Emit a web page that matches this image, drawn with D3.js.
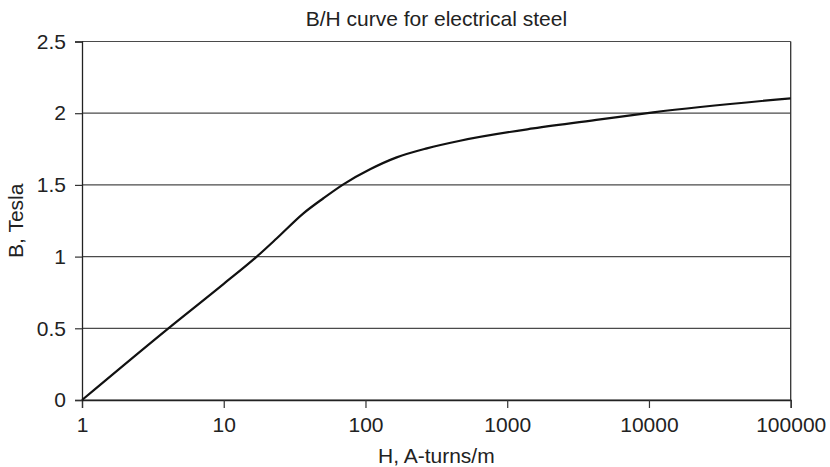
<!DOCTYPE html>
<html><head><meta charset="utf-8">
<script src="https://cdn.jsdelivr.net/npm/d3@7"></script>
<style>body{margin:0;background:#fff}text{font-family:"Liberation Sans",Arial,sans-serif;fill:#222}</style>
</head><body><svg id="c" width="830" height="467"></svg>
<script>
const H = [1, 4.07, 10, 17.1, 23.7, 36.5, 50.5, 69.8, 107.7, 166, 271, 465, 1524, 4530, 10700, 100000];
const B = [0, 0.5, 0.81, 1.0, 1.128, 1.302, 1.407, 1.504, 1.609, 1.692, 1.755, 1.808, 1.894, 1.957, 2.006, 2.104];
const xTicks = [1, 10, 100, 1000, 10000, 100000];
const yTicks = [0, 0.5, 1, 1.5, 2, 2.5];
const title = "B/H curve for electrical steel";
const xTitle = "H, A-turns/m";
const yTitle = "B, Tesla";

const svg = d3.select("#c");
const L = 82, R = 790.7, T = 41.5, Bt = 400;
const FS = 21;
const x = d3.scaleLog().domain([1, 100000]).range([L, R]);
const y = d3.scaleLinear().domain([0, 2.5]).range([Bt, T]);

// gridlines
svg.append("g").selectAll("line").data(yTicks).join("line")
  .attr("x1", L).attr("x2", R).attr("y1", d => y(d)).attr("y2", d => y(d))
  .attr("stroke", "#4a4a4a").attr("stroke-width", 1.2);
// right border
svg.append("line").attr("x1", R).attr("x2", R).attr("y1", T).attr("y2", Bt)
  .attr("stroke", "#333").attr("stroke-width", 1.3);

const xAxis = svg.append("g").attr("transform", `translate(0,${Bt})`)
  .call(d3.axisBottom(x).tickValues(xTicks).tickFormat(d3.format("d")).tickSizeOuter(0).tickSize(8).tickPadding(9));
const yAxis = svg.append("g").attr("transform", `translate(${L},0)`)
  .call(d3.axisLeft(y).tickValues(yTicks).tickFormat(d => String(d)).tickSizeOuter(0).tickSize(7).tickPadding(9));
[xAxis, yAxis].forEach(g => {
  g.select(".domain").attr("stroke", "#222").attr("stroke-width", 1.3);
  g.selectAll(".tick line").attr("stroke", "#333").attr("stroke-width", 1.2);
  g.selectAll(".tick text").attr("font-size", FS).attr("font-family", "Liberation Sans, Arial, sans-serif").attr("fill", "#222");
});

const data = H.map((h, i) => [h, B[i]]);
svg.append("path").datum(data)
  .attr("d", d3.line().x(d => x(d[0])).y(d => y(d[1])).curve(d3.curveMonotoneX))
  .attr("fill", "none").attr("stroke", "#111").attr("stroke-width", 2.2);

svg.append("text").attr("x", (L + R) / 2).attr("y", 26).attr("text-anchor", "middle")
  .attr("font-size", FS).text(title);
svg.append("text").attr("x", (L + R) / 2).attr("y", 463).attr("text-anchor", "middle")
  .attr("font-size", FS).text(xTitle);
svg.append("text").attr("transform", `translate(23,${(T + Bt) / 2}) rotate(-90)`).attr("text-anchor", "middle")
  .attr("font-size", FS).text(yTitle);
</script></body></html>
